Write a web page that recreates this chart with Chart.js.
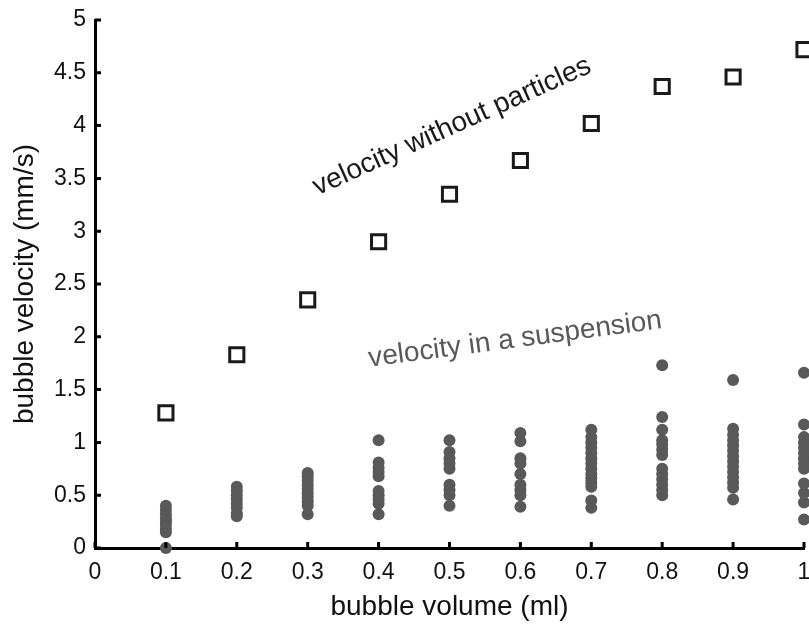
<!DOCTYPE html>
<html>
<head>
<meta charset="utf-8">
<script src="https://cdn.jsdelivr.net/npm/chart.js@4/dist/chart.umd.min.js"></script>
<style>
  html, body { margin: 0; padding: 0; background: #fff; }
  #wrap { width: 809px; height: 624px; position: relative; }
</style>
</head>
<body>
<div id="wrap"><canvas id="myChart"></canvas></div>
<script>
// bubble volume (ml) for each measurement column
var volumes = [0.1, 0.2, 0.3, 0.4, 0.5, 0.6, 0.7, 0.8, 0.9, 1.0];

// velocity without particles (mm/s), one per volume
var velocityClear = [1.28, 1.83, 2.35, 2.90, 3.35, 3.67, 4.02, 4.37, 4.46, 4.72];

// velocity in a suspension (mm/s), several runs per volume
var velocitySuspension = [
	[0, 0.15, 0.18, 0.22, 0.25, 0.28, 0.32, 0.36, 0.40],
	[0.30, 0.33, 0.38, 0.42, 0.46, 0.50, 0.54, 0.58],
	[0.32, 0.40, 0.44, 0.48, 0.52, 0.56, 0.60, 0.64, 0.68, 0.71],
	[0.32, 0.42, 0.46, 0.50, 0.54, 0.68, 0.72, 0.76, 0.81, 1.02],
	[0.40, 0.50, 0.55, 0.60, 0.75, 0.80, 0.85, 0.91, 1.02],
	[0.39, 0.50, 0.55, 0.60, 0.70, 0.80, 0.85, 1.01, 1.09],
	[0.38, 0.45, 0.58, 0.62, 0.66, 0.70, 0.75, 0.80, 0.85, 0.90, 0.95, 1.00, 1.05, 1.12],
	[0.50, 0.55, 0.60, 0.65, 0.70, 0.75, 0.88, 0.93, 0.98, 1.02, 1.12, 1.24, 1.73],
	[0.46, 0.57, 0.62, 0.67, 0.72, 0.77, 0.82, 0.87, 0.92, 0.97, 1.02, 1.07, 1.13, 1.59],
	[0.27, 0.43, 0.52, 0.61, 0.75, 0.80, 0.85, 0.90, 0.95, 1.00, 1.05, 1.17, 1.66]
];

var xTicks = [0, 0.1, 0.2, 0.3, 0.4, 0.5, 0.6, 0.7, 0.8, 0.9, 1];
var yTicks = [0, 0.5, 1, 1.5, 2, 2.5, 3, 3.5, 4, 4.5, 5];

var FONT = '"Liberation Sans", Arial, sans-serif';

var clearPoints = volumes.map(function(v, i) {
	return {x: v, y: velocityClear[i]};
});
var suspPoints = [];
volumes.forEach(function(v, i) {
	velocitySuspension[i].forEach(function(val) {
		suspPoints.push({x: v, y: val});
	});
});

// ticks point inward, drawn on top of the axis lines
var innerTicks = {
	id: 'innerTicks',
	afterDatasetsDraw: function(chart) {
		var ctx = chart.ctx;
		var xs = chart.scales.x, ys = chart.scales.y;
		var area = chart.chartArea;
		ctx.save();
		ctx.strokeStyle = '#000';
		ctx.lineWidth = 3;
		ctx.beginPath();
		xTicks.forEach(function(t) {
			var px = xs.getPixelForValue(t);
			ctx.moveTo(px, area.bottom);
			ctx.lineTo(px, area.bottom - 6);
		});
		yTicks.forEach(function(t) {
			var py = ys.getPixelForValue(t);
			ctx.moveTo(area.left, py);
			ctx.lineTo(area.left + 6, py);
		});
		ctx.stroke();
		ctx.restore();
	}
};

// rotated series labels, anchored in data coordinates
var seriesLabels = {
	id: 'seriesLabels',
	afterDatasetsDraw: function(chart) {
		var ctx = chart.ctx;
		var xs = chart.scales.x, ys = chart.scales.y;
		var labels = [
			{text: 'velocity without particles', x: 0.508, y: 3.925, angle: -24.2, color: '#1a1a1a', size: 28},
			{text: 'velocity in a suspension', x: 0.594, y: 1.90, angle: -7.5, color: '#595959', size: 28}
		];
		labels.forEach(function(l) {
			ctx.save();
			ctx.translate(xs.getPixelForValue(l.x), ys.getPixelForValue(l.y));
			ctx.rotate(l.angle * Math.PI / 180);
			ctx.font = l.size + 'px ' + FONT;
			ctx.fillStyle = l.color;
			ctx.textAlign = 'center';
			ctx.textBaseline = 'alphabetic';
			ctx.fillText(l.text, 0, 0);
			ctx.restore();
		});
	}
};

var fmt = function(v) {
	return String(Math.round(v * 10) / 10);
};

var ctx = document.getElementById('myChart').getContext('2d');
var chart = new Chart(ctx, {
	type: 'scatter',
	data: {
		datasets: [
			{
				label: 'velocity in a suspension',
				data: suspPoints,
				pointStyle: 'circle',
				pointRadius: 6,
				pointBorderWidth: 0,
				backgroundColor: '#595959',
				borderColor: '#595959',
				clip: false
			},
			{
				label: 'velocity without particles',
				data: clearPoints,
				pointStyle: 'rect',
				pointRadius: 10,
				pointBorderWidth: 3,
				backgroundColor: '#ffffff',
				borderColor: '#1a1a1a',
				clip: false
			}
		]
	},
	options: {
		animation: false,
		responsive: true,
		maintainAspectRatio: false,
		layout: {autoPadding: false, padding: {top: 20, right: 5, left: 0, bottom: 0}},
		plugins: {
			legend: {display: false},
			tooltip: {enabled: false}
		},
		scales: {
			x: {
				type: 'linear',
				min: 0,
				max: 1,
				afterFit: function(scale) {
					scale.height = 76;
					scale.paddingLeft = 0;
					scale.paddingRight = 0;
				},
				afterBuildTicks: function(scale) {
					scale.ticks = xTicks.map(function(t) { return {value: t}; });
				},
				grid: {display: false, drawTicks: false},
				border: {display: true, color: '#000', width: 3},
				ticks: {
					padding: 11,
					color: '#111',
					font: {family: FONT, size: 23},
					maxRotation: 0,
					callback: fmt
				},
				title: {
					display: true,
					text: 'bubble volume (ml)',
					color: '#111',
					font: {family: FONT, size: 28},
					padding: {top: 0, bottom: 0}
				}
			},
			y: {
				type: 'linear',
				min: 0,
				max: 5,
				afterFit: function(scale) {
					scale.width = 95;
					scale.paddingTop = 0;
					scale.paddingBottom = 0;
				},
				afterBuildTicks: function(scale) {
					scale.ticks = yTicks.map(function(t) { return {value: t}; });
				},
				grid: {display: false, drawTicks: false},
				border: {display: true, color: '#000', width: 3},
				ticks: {
					padding: 9,
					color: '#111',
					font: {family: FONT, size: 23},
					callback: fmt
				},
				title: {
					display: true,
					text: 'bubble velocity (mm/s)',
					color: '#111',
					font: {family: FONT, size: 28},
					padding: {top: 8, bottom: 0}
				}
			}
		}
	},
	plugins: [innerTicks, seriesLabels]
});
</script>
</body>
</html>
